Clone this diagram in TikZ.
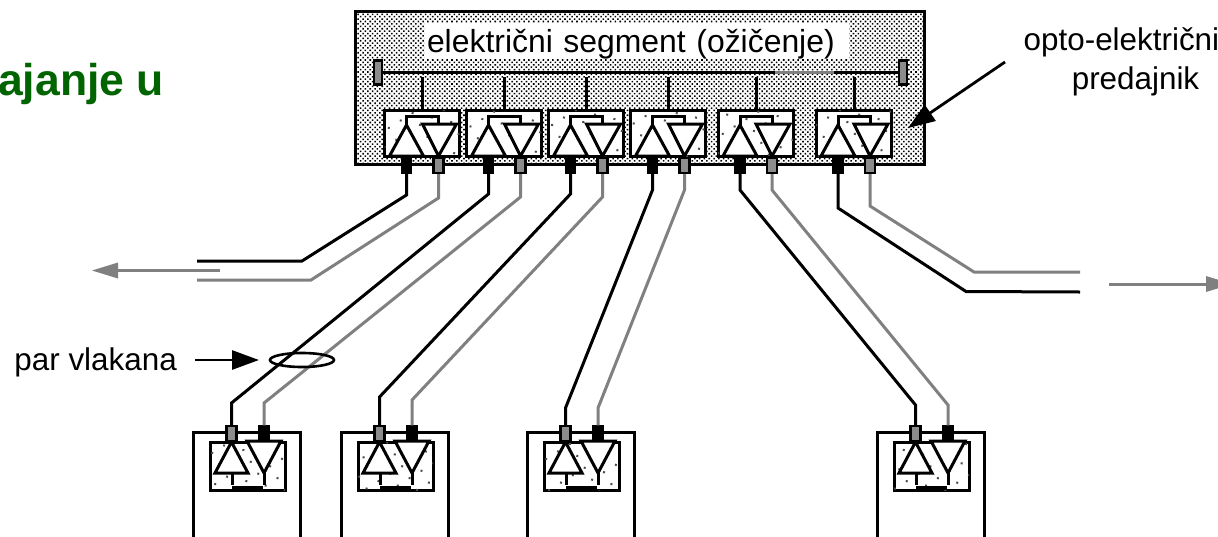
\documentclass[tikz,border=0pt]{standalone}
\usepackage{fontspec}
\setmainfont{Liberation Sans}
\usetikzlibrary{arrows.meta,patterns.meta,shapes.geometric}

\definecolor{titlegreen}{RGB}{0,100,0}
\tikzset{
 wire/.style={line width=3pt},
 blackfiber/.style={line width=3pt,line join=miter},
 greyfiber/.style={line width=3pt,draw=black!50},
 greyarrow/.style={greyfiber,-{Triangle[length=26pt,width=16pt,color=black!50,fill=black!50,line width=0pt,sep=2pt]}},
 blackarrow/.style={line width=2.8pt,-{Triangle[length=27pt,width=19pt]}},
 denseshade/.style={pattern={Dots[angle=45,distance=3.4pt,radius=1.1pt]},pattern color=black},
 sparseshade/.style={pattern={Dots[angle=32,distance=14pt,radius=1.4pt]},pattern color=black!70},
 blackplug/.style={draw,fill=black,line width=1.5pt,minimum width=10pt,minimum height=15pt,inner sep=0pt},
 greyplug/.style={draw,fill=black!45,line width=2.4pt,minimum width=10pt,minimum height=15pt,inner sep=0pt},
 textlabel/.style={font=\fontsize{31.4}{40}\selectfont,inner sep=0pt},
 % modul u gornjem segmentu, ishodiste je gornji lijevi kut
 topmodule/.pic={
  \draw [wire,fill=white] (0,0) rectangle (75,46);
  \fill [sparseshade] (0,0) rectangle (75,46);
  \draw [wire] (38,-33) -- (38,0);
  \draw [wire,fill=white,line join=miter] (5,46) -- (22,15) -- (39,46) -- cycle;
  \draw [wire,fill=white,line join=miter] (38,14) -- (72,14) -- (54,46) -- cycle;
  \draw [wire] (22,15) -- (22,6) -- (54,6) -- (54,14);
  \node [blackplug] (-K) at (22,55.5) {};
  \node [greyplug] (-S) at (54,55.5) {};
 },
 % modul na dnu, ishodiste je gornji lijevi kut okvira
 endmodule/.pic={
  \draw [wire] (0,110) -- (0,0) -- (107.5,0) -- (107.5,110);
  \draw [wire,fill=white] (17,10) rectangle (92,58);
  \fill [sparseshade] (17,10) rectangle (92,58);
  \draw [wire,fill=white,line join=miter] (22,41) -- (38.5,10) -- (55,41) -- cycle;
  \draw [wire,fill=white,line join=miter] (54,9) -- (88,9) -- (71,41) -- cycle;
  \draw [wire] (39,41) -- (39,53);
  \draw [wire] (71,41) -- (71,53);
  \draw [line width=4pt] (39,56) -- (70,56);
  \node [greyplug] (-S) at (38.5,1.5) {};
  \node [blackplug] (-K) at (71,1.5) {};
 },
}

\begin{document}
\begin{tikzpicture}[x=1pt,y=-1pt]
 \clip (0,0) rectangle (1218,536);
 \useasboundingbox (0,0) rectangle (1218,536);

 % okvir segmenta
 \draw [line width=3pt,fill=white] (355,11) rectangle (924,164);
 \fill [denseshade] (355,11) rectangle (924,164);
 \node [textlabel,font=\fontsize{31.9}{40}\selectfont,fill=white,text width=424pt,align=left,minimum height=36pt,text depth=0pt] (SEG) at (637,41) {\hspace*{2pt}električni segment (ožičenje)};

 % sabirnica
 \node [greyplug,minimum width=8pt,minimum height=24pt] (BL) at (378,72.5) {};
 \node [greyplug,minimum width=8pt,minimum height=24pt] (BR) at (903,72.5) {};
 \draw [wire] (BL) -- (BR);
 \draw [greyfiber] (775,72.5) -- (834,72.5);

 \pic (T1) at (384.5,110) {topmodule};
 \pic (T2) at (466.5,110) {topmodule};
 \pic (T3) at (548.5,110) {topmodule};
 \pic (T4) at (630.5,110) {topmodule};
 \pic (T5) at (718,110) {topmodule};
 \pic (T6) at (816,110) {topmodule};

 \pic (E1) at (193,432) {endmodule};
 \pic (E2) at (341,432) {endmodule};
 \pic (E3) at (527,432) {endmodule};
 \pic (E4) at (877,432) {endmodule};

 % vlakna lijevo i desno
 \coordinate (L1) at (197,261);
 \coordinate (L2) at (197,280);
 \coordinate (R1) at (1080,292);
 \coordinate (R2) at (1080,272);
 \draw [blackfiber] (T1-K) -- (406.5,195) -- (302,261) -- (L1);
 \draw [greyfiber] (T1-S) -- (438.5,198) -- (311,280) -- (L2);
 \draw [blackfiber] (T6-K) -- (838,208) -- (966,291.5) -- (R1);
 \draw [greyfiber] (T6-S) -- (870,206) -- (974,272) -- (R2);

 % vlakna prema donjim modulima
 \draw [blackfiber] (T2-K) -- (488.5,194) -- (231.5,403) -- (E1-S);
 \draw [greyfiber] (T2-S) -- (520.5,197) -- (264,403) -- (E1-K);
 \draw [blackfiber] (T3-K) -- (570.5,194) -- (379.5,397) -- (E2-S);
 \draw [greyfiber] (T3-S) -- (602.5,197) -- (412,400) -- (E2-K);
 \draw [blackfiber] (T4-K) -- (652.5,190) -- (565.5,408) -- (E3-S);
 \draw [greyfiber] (T4-S) -- (684.5,190) -- (598,408) -- (E3-K);
 \draw [blackfiber] (T5-K) -- (740,190) -- (915.5,405) -- (E4-S);
 \draw [greyfiber] (T5-S) -- (772,190) -- (948,405) -- (E4-K);

 % strelice
 \coordinate (G1) at (220,270.5);
 \coordinate (G2) at (90,270.5);
 \coordinate (G3) at (1109,284);
 \coordinate (G4) at (1234,284);
 \draw [greyarrow] (G1) -- (G2);
 \draw [greyarrow] (G3) -- (G4);

 % natpisi
 \node [font=\bfseries\fontsize{44.5}{48}\selectfont,text=titlegreen,anchor=base west,inner sep=0pt] (NASLOV) at (-2,95.5) {ajanje u};
 \node [textlabel,anchor=base west] (OPTO) at (1023.5,50) {opto-električni};
 \node [textlabel,anchor=base] (PREDAJNIK) at (1135.5,89) {predajnik};
 \coordinate (P1) at (1005,62);
 \coordinate (P2) at (908,128);
 \draw [blackarrow] (P1) -- (P2);

 \node [textlabel,anchor=base east] (PAR) at (177,370) {par vlakana};
 \node [draw,ellipse,line width=2.6pt,minimum width=64pt,minimum height=14pt,inner sep=0pt] (O) at (302,360) {};
 \coordinate (P3) at (195,360);
 \coordinate (P4) at (259,360);
 \draw [blackarrow] (P3) -- (P4);
\end{tikzpicture}
\end{document}
